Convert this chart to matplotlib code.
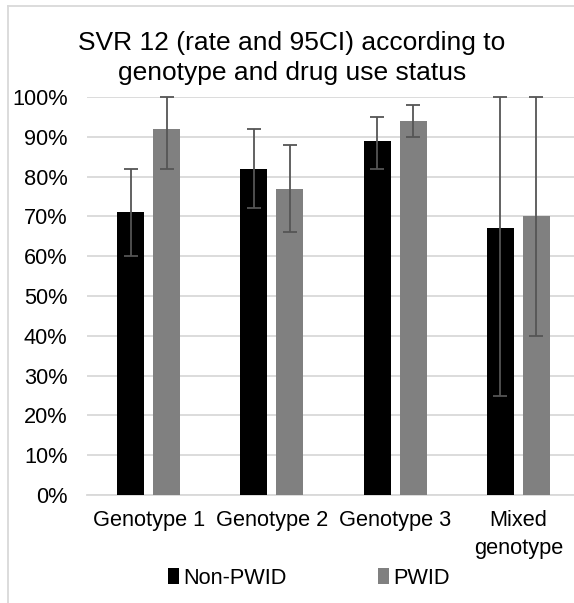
import matplotlib
matplotlib.use("Agg")
import matplotlib.pyplot as plt
import numpy as np
from matplotlib.lines import Line2D
from matplotlib.patches import Patch
from matplotlib.ticker import PercentFormatter

categories = ["Genotype 1", "Genotype 2", "Genotype 3", "Mixed\ngenotype"]
series = ["Non-PWID", "PWID"]
non_pwid = [71, 82, 89, 67]
non_pwid_lo = [60, 72, 82, 25]
non_pwid_hi = [82, 92, 95, 100]
pwid = [92, 77, 94, 70]
pwid_lo = [82, 66, 90, 40]
pwid_hi = [100, 88, 98, 100]
yticks = [0, 10, 20, 30, 40, 50, 60, 70, 80, 90, 100]

plt.rcParams['font.family'] = ['Liberation Sans', 'DejaVu Sans']

W, H = 574, 603
fig = plt.figure(figsize=(W/100, H/100), dpi=100)
ax = fig.add_axes([87/W, 1-495/H, 493/W, 398/H])

x = np.arange(len(categories))
bw = 0.22
off = 0.146
ecol = '#555555'
for vals, lo, hi, col, sign in [(non_pwid, non_pwid_lo, non_pwid_hi, '#000000', -1),
                                 (pwid, pwid_lo, pwid_hi, '#808080', 1)]:
    v = np.array(vals, float)
    yerr = np.vstack([v - np.array(lo), np.array(hi) - v])
    ax.bar(x + sign*off, v, bw, color=col, zorder=3)
    eb = ax.errorbar(x + sign*off, v, yerr=yerr, fmt='none', ecolor=ecol,
                     elinewidth=1.3, capsize=4.8, capthick=1.3, zorder=4)
    for artist in eb.lines[1] + eb.lines[2]:
        artist.set_clip_on(False)

ax.set_xlim(-0.5, 3.5)
ax.set_ylim(0, 100)
ax.set_yticks(yticks)
ax.yaxis.set_major_formatter(PercentFormatter(decimals=0))
ax.set_xticks(x)
ax.set_xticklabels(categories)
for lbl in ax.get_xticklabels():
    lbl.set_linespacing(1.4)
ax.grid(axis='y', color='#d9d9d9', linewidth=1.3, zorder=0)
ax.set_axisbelow(True)
for s in ['top', 'right', 'left']:
    ax.spines[s].set_visible(False)
ax.spines['bottom'].set_color('#d9d9d9')
ax.spines['bottom'].set_linewidth(1.3)
ax.tick_params(axis='both', length=0, labelsize=15.7, colors='#000000')
ax.tick_params(axis='y', pad=14)
ax.tick_params(axis='x', pad=11)

fig.text(292/W, 1-58/H, "SVR 12 (rate and 95CI) according to\ngenotype and drug use status",
         ha='center', va='center', fontsize=19, linespacing=1.3)

handles = [Patch(facecolor='#000000'), Patch(facecolor='#808080')]
fig.legend(handles, series, loc='center', bbox_to_anchor=(309/W, 1-578/H), ncol=2,
           frameon=False, fontsize=15.7, handlelength=0.5, handleheight=0.7,
           handletextpad=0.2, columnspacing=4.2)

# chart border
fig.add_artist(Line2D([7.5/W, 7.5/W], [0, 1-5.5/H], color='#d9d9d9', lw=1.3, transform=fig.transFigure))
fig.add_artist(Line2D([7.5/W, 1], [1-5.5/H, 1-5.5/H], color='#d9d9d9', lw=1.3, transform=fig.transFigure))

fig.savefig("out.png", dpi=100)
